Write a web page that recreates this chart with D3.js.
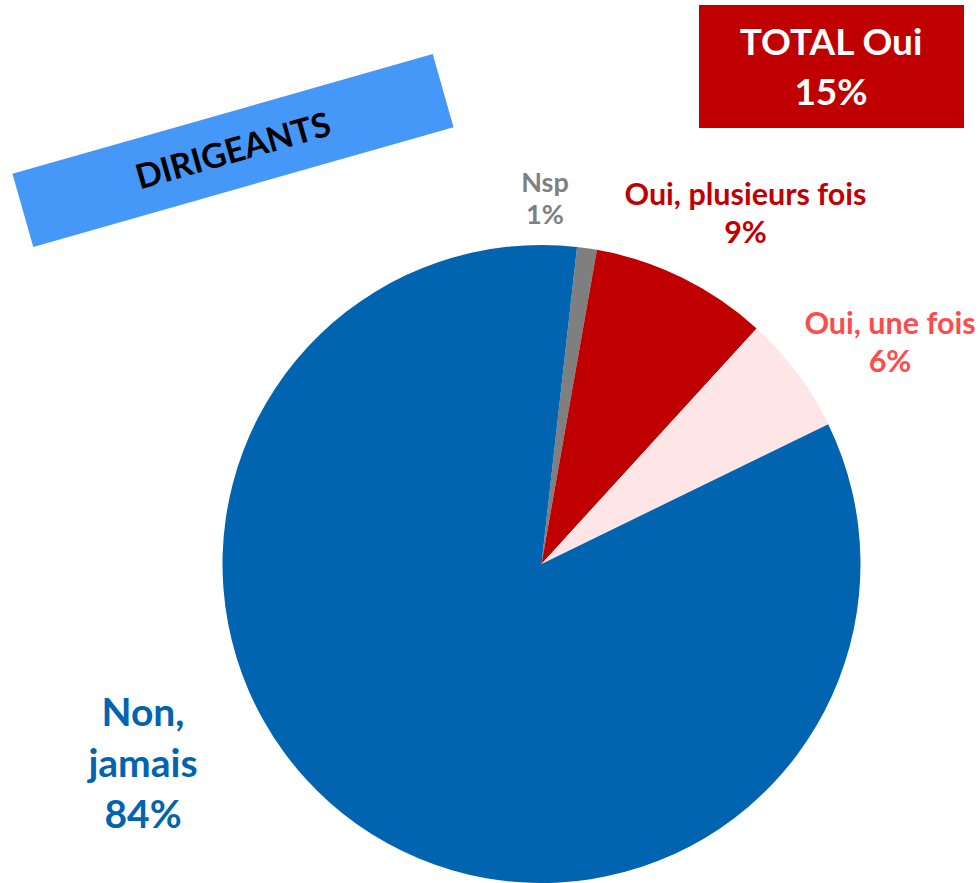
<!DOCTYPE html>
<html>
<head>
<meta charset="utf-8">
<script src="https://cdn.jsdelivr.net/npm/d3@7"></script>
<style>
  body { margin: 0; background: #fff; }
  text { font-family: Lato, "Open Sans", sans-serif; font-weight: bold; }
</style>
</head>
<body>
<div id="chart"></div>
<script>
// data
const categories = ['Nsp', 'Oui, plusieurs fois', 'Oui, une fois', 'Non, jamais'];
const values = [1, 9, 6, 84];
const sliceColors = ['#7F7F7F', '#C00000', '#FFE5E5', '#0064B0'];
const labelColors = ['#808080', '#C00000', '#FF4B4B', '#0064B0'];
const labelLines = [['Nsp', '1%'], ['Oui, plusieurs fois', '9%'], ['Oui, une fois', '6%'], ['Non,', 'jamais', '84%']];
const totalOui = values[1] + values[2];
const groupTitle = 'DIRIGEANTS';

// layout
const width = 979, height = 883;
const cx = 541.5, cy = 564, radius = 319;
const offset = 6.4 * Math.PI / 180;
// label anchor (center x, first baseline), font size, line step
const labelPos = [
  {x: 545, y: 192, size: 27, step: 32},
  {x: 745.5, y: 205, size: 30.5, step: 38},
  {x: 890, y: 334, size: 30.5, step: 38},
  {x: 143, y: 726, size: 39, step: 51}
];

const svg = d3.select('#chart').append('svg')
  .attr('width', width)
  .attr('height', height);

const pie = d3.pie().sort(null).startAngle(offset).endAngle(offset + 2 * Math.PI);
const arc = d3.arc().innerRadius(0).outerRadius(radius);

svg.append('g')
  .attr('transform', 'translate(' + cx + ',' + cy + ')')
  .selectAll('path')
  .data(pie(values))
  .enter().append('path')
  .attr('d', arc)
  .attr('fill', function(d, i) { return sliceColors[i]; });

// slice labels
categories.forEach(function(c, i) {
  let p = labelPos[i];
  let t = svg.append('text')
    .attr('text-anchor', 'middle')
    .attr('fill', labelColors[i])
    .style('font-size', p.size + 'px');
  labelLines[i].forEach(function(line, j) {
    t.append('tspan')
      .attr('x', p.x)
      .attr('y', p.y + j * p.step)
      .text(line);
  });
});

// total box
svg.append('rect')
  .attr('x', 699).attr('y', 5)
  .attr('width', 265).attr('height', 123)
  .attr('fill', '#C00000');
let tt = svg.append('text')
  .attr('text-anchor', 'middle')
  .attr('fill', '#fff')
  .style('font-size', '37px');
tt.append('tspan').attr('x', 831).attr('y', 55).text('TOTAL Oui');
tt.append('tspan').attr('x', 831).attr('y', 105).text(totalOui + '%');

// rotated title band
let band = svg.append('g')
  .attr('transform', 'translate(233,150.5) rotate(-15.9)');
band.append('rect')
  .attr('x', -218.5).attr('y', -38)
  .attr('width', 437).attr('height', 76)
  .attr('fill', '#4597F8');
band.append('text')
  .attr('text-anchor', 'middle')
  .attr('y', 12)
  .attr('fill', '#000')
  .style('font-size', '34px')
  .text(groupTitle);
</script>
</body>
</html>
